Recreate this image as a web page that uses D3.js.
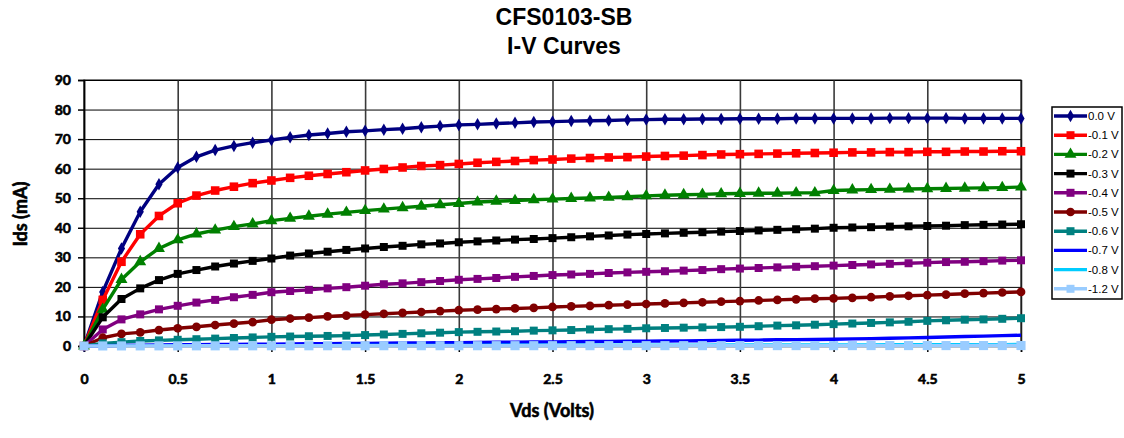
<!DOCTYPE html>
<html>
<head>
<meta charset="utf-8">
<script src="https://cdn.jsdelivr.net/npm/d3@7/dist/d3.min.js"></script>
<style>
  html, body { margin: 0; padding: 0; background: #fff; }
  svg { display: block; }
</style>
</head>
<body>
<svg id="chart" width="1124" height="438"></svg>
<script>
// ---------- DATA ----------
const titleLines = ["CFS0103-SB", "I-V Curves"];
const xLabel = "Vds (Volts)";
const yLabel = "Ids (mA)";
const xTicks = [0, 0.5, 1, 1.5, 2, 2.5, 3, 3.5, 4, 4.5, 5];
const xTickLabels = ["0", "0.5", "1", "1.5", "2", "2.5", "3", "3.5", "4", "4.5", "5"];
const yTicks = [0, 10, 20, 30, 40, 50, 60, 70, 80, 90];

const vds = [0.0, 0.1, 0.2, 0.3, 0.4, 0.5, 0.6, 0.7, 0.8, 0.9,
             1.0, 1.1, 1.2, 1.3, 1.4, 1.5, 1.6, 1.7, 1.8, 1.9,
             2.0, 2.1, 2.2, 2.3, 2.4, 2.5, 2.6, 2.7, 2.8, 2.9,
             3.0, 3.1, 3.2, 3.3, 3.4, 3.5, 3.6, 3.7, 3.8, 3.9,
             4.0, 4.1, 4.2, 4.3, 4.4, 4.5, 4.6, 4.7, 4.8, 4.9, 5.0];

const seriesNames = ["0.0 V", "-0.1 V", "-0.2 V", "-0.3 V", "-0.4 V", "-0.5 V", "-0.6 V", "-0.7 V", "-0.8 V", "-1.2 V"];

const ids_0_0 = [0, 18.3, 33.0, 45.4, 54.7, 60.4, 64.0, 66.3, 67.7, 68.8,
  69.7, 70.6, 71.4, 71.9, 72.5, 72.8, 73.2, 73.5, 74.0, 74.4,
  74.8, 75.0, 75.3, 75.5, 75.8, 75.9, 76.1, 76.2, 76.3, 76.5,
  76.6, 76.7, 76.7, 76.8, 76.8, 76.9, 76.9, 76.9, 77.0, 77.0,
  77.0, 77.0, 77.0, 77.1, 77.1, 77.1, 77.1, 77.0, 77.0, 77.0, 77.0];
const ids_m0_1 = [0, 15.6, 28.5, 37.8, 44.0, 48.3, 50.9, 52.6, 53.9, 55.1,
  56.0, 56.9, 57.6, 58.2, 58.8, 59.4, 59.9, 60.4, 60.9, 61.2,
  61.6, 62.0, 62.3, 62.6, 62.9, 63.1, 63.4, 63.6, 63.8, 63.9,
  64.1, 64.3, 64.4, 64.6, 64.8, 64.9, 65.0, 65.1, 65.2, 65.3,
  65.4, 65.5, 65.5, 65.6, 65.6, 65.7, 65.7, 65.8, 65.8, 65.9, 65.9];
const ids_m0_2 = [0, 12.4, 22.5, 28.5, 33.0, 35.9, 37.9, 39.2, 40.4, 41.3,
  42.4, 43.2, 43.9, 44.6, 45.2, 45.8, 46.3, 46.8, 47.3, 47.8,
  48.2, 48.7, 49.0, 49.2, 49.5, 49.7, 49.9, 50.1, 50.3, 50.5,
  50.8, 51.0, 51.2, 51.3, 51.5, 51.6, 51.7, 51.7, 51.8, 51.8,
  52.6, 52.8, 52.9, 53.0, 53.1, 53.2, 53.3, 53.4, 53.5, 53.6, 53.8];
const ids_m0_3 = [0, 9.7, 15.9, 19.5, 22.3, 24.4, 25.7, 26.9, 27.9, 28.8,
  29.6, 30.6, 31.3, 31.9, 32.5, 33.0, 33.5, 33.9, 34.4, 34.7,
  35.1, 35.4, 35.7, 36.0, 36.2, 36.5, 36.8, 37.1, 37.4, 37.7,
  37.9, 38.1, 38.3, 38.5, 38.7, 38.9, 39.1, 39.3, 39.5, 39.7,
  40.0, 40.1, 40.2, 40.4, 40.5, 40.6, 40.7, 40.9, 41.0, 41.1, 41.2];
const ids_m0_4 = [0, 5.6, 9.0, 10.7, 12.4, 13.6, 14.7, 15.6, 16.5, 17.3,
  18.2, 18.6, 19.0, 19.5, 19.9, 20.4, 20.9, 21.2, 21.6, 22.0,
  22.4, 22.7, 23.0, 23.4, 23.7, 24.0, 24.2, 24.4, 24.7, 24.9,
  25.1, 25.3, 25.5, 25.7, 26.0, 26.2, 26.4, 26.6, 26.8, 27.0,
  27.2, 27.4, 27.6, 27.8, 28.0, 28.2, 28.4, 28.5, 28.7, 28.9, 29.0];
const ids_m0_5 = [0, 2.8, 4.1, 4.6, 5.4, 6.0, 6.5, 7.1, 7.6, 8.1,
  8.9, 9.3, 9.6, 10.0, 10.3, 10.6, 10.9, 11.2, 11.5, 11.8,
  12.1, 12.3, 12.5, 12.7, 12.9, 13.2, 13.4, 13.6, 13.8, 14.0,
  14.2, 14.4, 14.6, 14.8, 15.0, 15.2, 15.4, 15.6, 15.8, 16.0,
  16.1, 16.3, 16.5, 16.8, 17.0, 17.2, 17.4, 17.7, 17.9, 18.1, 18.3];
const ids_m0_6 = [0, 0.9, 1.3, 1.7, 1.9, 2.1, 2.3, 2.5, 2.7, 2.9,
  3.1, 3.2, 3.3, 3.4, 3.5, 3.7, 3.9, 4.1, 4.3, 4.5,
  4.7, 4.8, 4.9, 5.0, 5.2, 5.3, 5.4, 5.6, 5.7, 5.8,
  6.0, 6.1, 6.2, 6.3, 6.4, 6.5, 6.7, 6.9, 7.0, 7.2,
  7.4, 7.6, 7.8, 8.0, 8.2, 8.5, 8.7, 8.9, 9.0, 9.2, 9.4];
const ids_m0_7 = [0, 0.1, 0.2, 0.3, 0.35, 0.4, 0.45, 0.5, 0.55, 0.6,
  0.65, 0.7, 0.75, 0.8, 0.85, 0.9, 0.95, 1.0, 1.05, 1.1,
  1.15, 1.2, 1.25, 1.3, 1.35, 1.4, 1.45, 1.5, 1.55, 1.6,
  1.65, 1.7, 1.75, 1.8, 1.9, 1.95, 2.0, 2.1, 2.15, 2.2,
  2.3, 2.4, 2.5, 2.6, 2.75, 2.9, 3.05, 3.2, 3.35, 3.5, 3.65];
const ids_m0_8 = [0, 0.05, 0.1, 0.12, 0.15, 0.17, 0.2, 0.22, 0.24, 0.25,
  0.27, 0.28, 0.3, 0.31, 0.32, 0.33, 0.34, 0.35, 0.36, 0.37,
  0.38, 0.39, 0.4, 0.4, 0.41, 0.42, 0.43, 0.43, 0.44, 0.45,
  0.46, 0.47, 0.47, 0.48, 0.49, 0.5, 0.5, 0.51, 0.52, 0.53,
  0.54, 0.55, 0.56, 0.57, 0.58, 0.6, 0.61, 0.62, 0.64, 0.65, 0.67];
const ids_m1_2 = [0, 0.02, 0.03, 0.04, 0.05, 0.05, 0.06, 0.06, 0.07, 0.07,
  0.08, 0.08, 0.08, 0.09, 0.09, 0.09, 0.1, 0.1, 0.1, 0.1,
  0.1, 0.1, 0.11, 0.11, 0.11, 0.11, 0.11, 0.11, 0.12, 0.12,
  0.12, 0.12, 0.12, 0.12, 0.12, 0.13, 0.13, 0.13, 0.13, 0.13,
  0.13, 0.13, 0.14, 0.14, 0.14, 0.14, 0.14, 0.14, 0.15, 0.15, 0.15];

const seriesValues = [ids_0_0, ids_m0_1, ids_m0_2, ids_m0_3, ids_m0_4, ids_m0_5, ids_m0_6, ids_m0_7, ids_m0_8, ids_m1_2];
const seriesColors = ["#000080", "#FF0000", "#008000", "#000000", "#800080", "#800000", "#008080", "#0000FF", "#00CCFF", "#99CCFF"];
const seriesMarkers = ["diamond", "square", "triangle", "square", "square", "circle", "square", "none", "none", "square"];

// ---------- CHART ----------
const svg = d3.select("#chart");
const plot = { left: 84, right: 1021, top: 80, bottom: 346 };

const x = d3.scaleLinear().domain([0, 5]).range([plot.left, plot.right]);
const y = d3.scaleLinear().domain([0, 90]).range([plot.bottom, plot.top]);

const tickFont = "'Lato', 'Open Sans', sans-serif";

// Title
svg.append("g").selectAll("text").data(titleLines).join("text")
  .attr("x", 564).attr("y", (d, i) => 25 + i * 29)
  .attr("text-anchor", "middle")
  .attr("font-family", "'Liberation Sans', Arial, sans-serif")
  .attr("font-weight", "bold").attr("font-size", 23)
  .attr("fill", "#000")
  .text(d => d);

// Horizontal gridlines
svg.append("g").attr("transform", `translate(${plot.left},0)`)
  .call(d3.axisLeft(y).tickValues(yTicks).tickSize(-(plot.right - plot.left)).tickFormat(""))
  .call(g => g.select(".domain").remove())
  .call(g => g.selectAll("line").attr("stroke", "#000").attr("stroke-width", 1));

// Vertical gridlines
svg.append("g").attr("transform", `translate(0,${plot.top})`)
  .call(d3.axisTop(x).tickValues(xTicks).tickSize(-(plot.bottom - plot.top)).tickFormat(""))
  .call(g => g.select(".domain").remove())
  .call(g => g.selectAll("line").attr("stroke", "#3a3a3a").attr("stroke-width", 1.6));

// Plot border
svg.append("rect")
  .attr("x", x(0)).attr("y", y(90))
  .attr("width", x(5) - x(0)).attr("height", y(0) - y(90))
  .attr("fill", "none").attr("stroke", "#000").attr("stroke-width", 1);

// Faux-heavy text styling (approximates the heavy sans of the original)
function heavy(sel, size) {
  sel.attr("font-family", tickFont).attr("font-weight", "bold")
    .attr("font-size", size).attr("fill", "#000")
    .attr("stroke", "#000").attr("stroke-width", 0.6).attr("paint-order", "stroke");
}

// Axes
svg.append("g").attr("transform", `translate(${plot.left},0)`)
  .call(d3.axisLeft(y).tickValues(yTicks).tickSize(6).tickPadding(7))
  .call(g => g.select(".domain").attr("stroke", "#000").attr("stroke-width", 1.5))
  .call(g => g.selectAll("line").attr("stroke", "#000").attr("stroke-width", 1.5))
  .call(g => g.selectAll("text").call(heavy, 14));

svg.append("g").attr("transform", `translate(0,${plot.bottom})`)
  .call(d3.axisBottom(x).tickValues(xTicks).tickSize(6).tickPadding(22)
      .tickFormat((d, i) => xTickLabels[i]))
  .call(g => g.select(".domain").attr("stroke", "#000").attr("stroke-width", 1.5))
  .call(g => g.selectAll("line").attr("stroke", "#000").attr("stroke-width", 1.5))
  .call(g => g.selectAll("text").call(heavy, 14));

// Axis titles
svg.append("text")
  .attr("x", 552).attr("y", 417)
  .attr("text-anchor", "middle")
  .call(heavy, 18)
  .text(xLabel);

svg.append("text")
  .attr("transform", "translate(27,214) rotate(-90)")
  .attr("text-anchor", "middle")
  .call(heavy, 18)
  .text(yLabel);

// Marker drawing helper
function drawMarker(sel, type, color, size) {
  if (type === "none") return;
  let sym;
  if (type === "diamond") sym = d3.symbolDiamond;
  else if (type === "square") sym = d3.symbolSquare;
  else if (type === "triangle") sym = d3.symbolTriangle;
  else sym = d3.symbolCircle;
  sel.attr("d", d3.symbol().type(sym).size(size)).attr("fill", color).attr("stroke", "none");
}
const markerSizes = { diamond: 45, square: 64, triangle: 62, circle: 60 };

// Series
const line = d3.line().x(d => x(d[0])).y(d => y(d[1]));
const series = seriesNames.map((name, i) => ({
  name, color: seriesColors[i], marker: seriesMarkers[i],
  points: vds.map((v, j) => [v, seriesValues[i][j]])
}));

const plotG = svg.append("g");
series.forEach((s, i) => {
  const g = plotG.append("g");
  g.append("path").datum(s.points)
    .attr("d", line).attr("fill", "none")
    .attr("stroke", s.color).attr("stroke-width", i === 8 ? 2.4 : 3.4)
    .attr("stroke-linejoin", "round");
  if (s.marker !== "none") {
    g.selectAll("path.m").data(s.points).join("path").attr("class", "m")
      .attr("transform", d => `translate(${x(d[0])},${y(d[1])})`)
      .call(sel => drawMarker(sel, s.marker, s.color, markerSizes[s.marker] * (i === 9 ? 1.3 : (i === 1 ? 1.15 : 1))));
  }
});

// Legend
const legend = svg.append("g");
legend.append("rect")
  .attr("x", 1052).attr("y", 107).attr("width", 70).attr("height", 192)
  .attr("fill", "#fff").attr("stroke", "#000").attr("stroke-width", 1.5);
const legendItems = legend.selectAll("g.item").data(series).join("g").attr("class", "item")
  .attr("transform", (d, i) => `translate(0,${116 + i * 19.2})`);
legendItems.append("line")
  .attr("x1", 1054).attr("x2", 1087).attr("y1", 0).attr("y2", 0)
  .attr("stroke", d => d.color).attr("stroke-width", 3.4);
legendItems.filter(d => d.marker !== "none").append("path")
  .attr("transform", "translate(1070.5,0)")
  .each(function(d) { drawMarker(d3.select(this), d.marker, d.color, markerSizes[d.marker]); });
legendItems.append("text")
  .attr("x", 1088).attr("y", 4)
  .attr("font-family", "'Liberation Sans', Arial, sans-serif").attr("font-size", 11.5)
  .attr("fill", "#000").text(d => d.name);
</script>
</body>
</html>
